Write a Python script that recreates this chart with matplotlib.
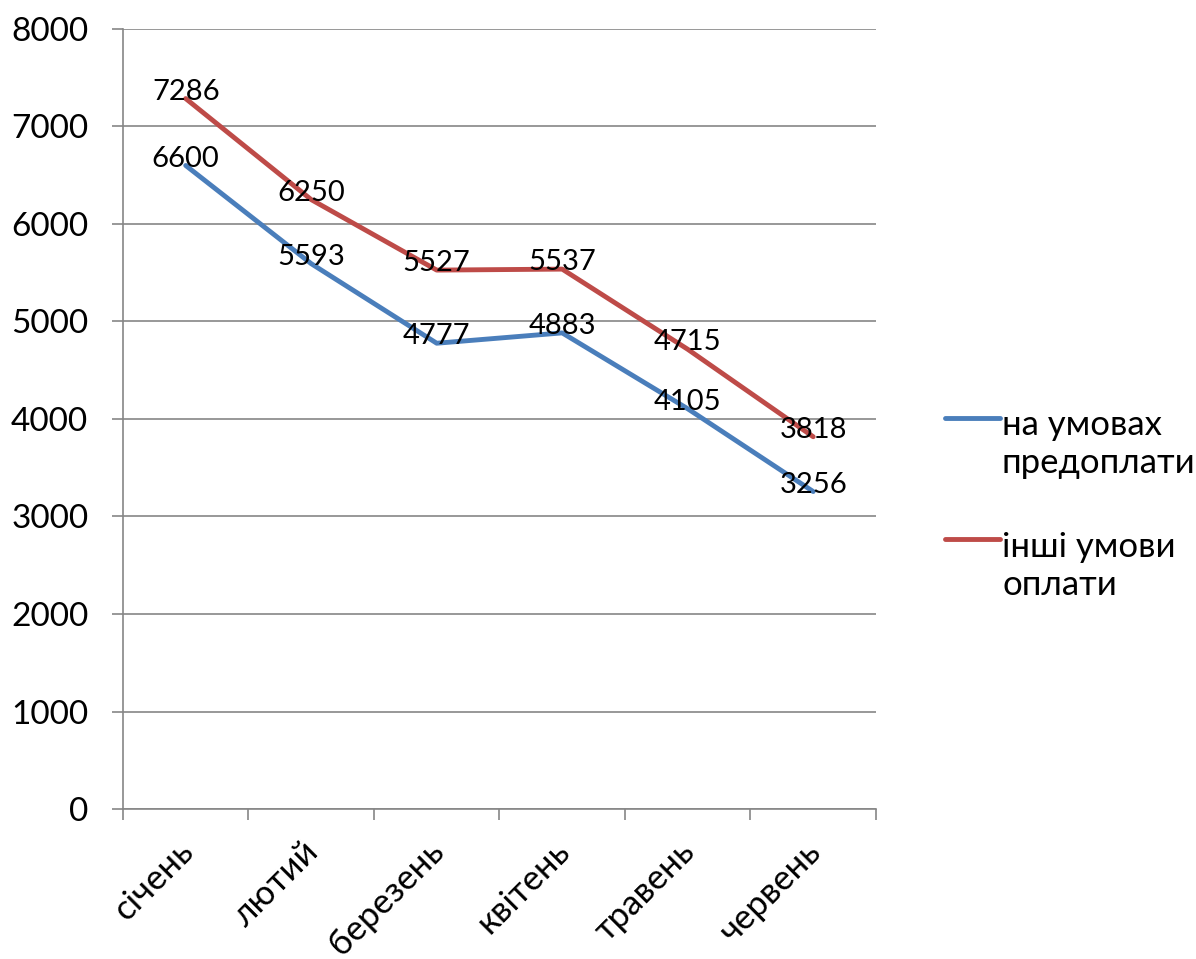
import matplotlib.pyplot as plt
from matplotlib.lines import Line2D
from matplotlib.transforms import ScaledTranslation
import numpy as np

months = ["січень", "лютий", "березень", "квітень", "травень", "червень"]
prepaid = [6600, 5593, 4777, 4883, 4105, 3256]
other = [7286, 6250, 5527, 5537, 4715, 3818]
series_names = ["на умовах\nпредоплати", "інші умови\nоплати"]
y_ticks = [0, 1000, 2000, 3000, 4000, 5000, 6000, 7000, 8000]

plt.rcParams["font.family"] = ["Lato", "Noto Sans", "DejaVu Sans"]

W, H = 1196, 959
fig = plt.figure(figsize=(W / 100, H / 100), dpi=100)
ax = fig.add_axes([0.1028, 0.1564, 0.6296, 0.8134])

x = np.arange(len(months))
blue = "#4A7EBB"
red = "#BE4B48"
grid_color = "#868686"
colors = [blue, red]

for vals, col in zip([prepaid, other], colors):
    ax.plot(x, vals, color=col, linewidth=3.5, solid_capstyle="round", zorder=3)
    for xi, v in zip(x, vals):
        ax.annotate(str(v), (xi, v), xytext=(0, 5), textcoords="offset points",
                    ha="center", va="center", fontsize=21, color="black", zorder=4)

ax.set_xlim(-0.5, len(months) - 0.5)
ax.set_ylim(0, 8000)
ax.set_yticks(y_ticks)
ax.set_yticklabels([str(t) for t in y_ticks], fontsize=24)
ax.yaxis.grid(True, color=grid_color, linewidth=1.2)
ax.set_axisbelow(True)

ax.set_xticks(x)
ax.set_xticklabels(months, fontsize=25, rotation=45, ha="right", rotation_mode="anchor")
ax.tick_params(axis="x", length=0, pad=22)
shift = ScaledTranslation(-9 / 100, 5 / 100, fig.dpi_scale_trans)
for lbl in ax.get_xticklabels():
    lbl.set_transform(lbl.get_transform() + shift)
ax.set_xticks(np.arange(len(months) + 1) - 0.5, minor=True)
ax.tick_params(axis="x", which="minor", length=8, width=1.2, color=grid_color)
ax.tick_params(axis="y", length=8, width=1.2, color=grid_color, pad=17)

for side in ["top", "right"]:
    ax.spines[side].set_visible(False)
for side in ["left", "bottom"]:
    ax.spines[side].set_color(grid_color)
    ax.spines[side].set_linewidth(1.2)

# legend drawn by hand so the line sits next to the first text line (like Excel)
legend_line_y = [418, 539]
legend_text_y = [444, 566]
for name, col, ly, ty in zip(series_names, colors, legend_line_y, legend_text_y):
    fig.add_artist(Line2D([945 / W, 1000 / W], [1 - ly / H, 1 - ly / H],
                          color=col, linewidth=3.5, solid_capstyle="round"))
    fig.text(1002 / W, 1 - ty / H, name, fontsize=25, ha="left", va="center",
             linespacing=1.25)

plt.savefig("out.png", dpi=100)
plt.close()
